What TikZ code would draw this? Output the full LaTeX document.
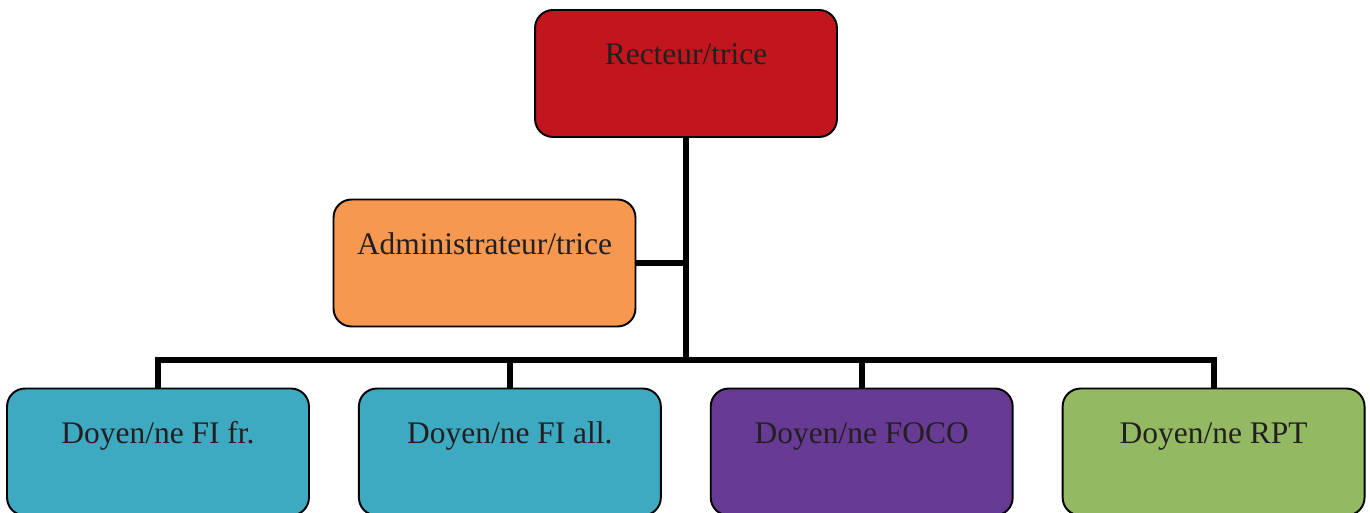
\documentclass[tikz,border=0pt]{standalone}
\usepackage{fontspec}
\setmainfont{Liberation Serif}
\usepackage{tikz}
\usetikzlibrary{positioning}

\definecolor{rectred}{HTML}{C1161D}
\definecolor{adminorange}{HTML}{F6984F}
\definecolor{fiteal}{HTML}{3DAAC1}
\definecolor{focopurple}{HTML}{673A93}
\definecolor{rptgreen}{HTML}{93BA62}
\definecolor{inkgray}{HTML}{231F20}

\begin{document}
\begin{tikzpicture}[
  x=0.02cm,y=-0.02cm,
  node distance=0.96cm,
  box/.style={draw,line width=1.1pt,rounded corners=0.36cm,inner sep=0pt,
    minimum width=6.04cm,text height=1.1cm,text depth=1.44cm,
    text=inkgray,font=\fontsize{17.9}{20}\selectfont},
  link/.style={line width=3.4pt}
]
\useasboundingbox (0,0) rectangle (1370,513);
\node[box,fill=rectred] (rect) at (686,73.5) {Recteur/trice};
\node[box,fill=adminorange] (admin) at (484.5,263) {Administrateur/trice};
\node[box,fill=fiteal] (fifr) at (158,452) {Doyen/ne FI fr.};
\node[box,fill=fiteal,right=of fifr] (fiall) {Doyen/ne FI all.};
\node[box,fill=focopurple,right=of fiall] (foco) {Doyen/ne FOCO};
\node[box,fill=rptgreen,right=of foco] (rpt) {Doyen/ne RPT};
\coordinate (bus) at (686,360);
% trunk and branches
\draw[link] (rect.south) -- (bus);
\draw[link] (admin.east) -- (admin.east -| rect.south);
\draw[link] (fifr.north) |- (bus) -| (rpt.north);
\draw[link] (fiall.north) -- (fiall.north |- bus);
\draw[link] (foco.north) -- (foco.north |- bus);
\end{tikzpicture}
\end{document}
